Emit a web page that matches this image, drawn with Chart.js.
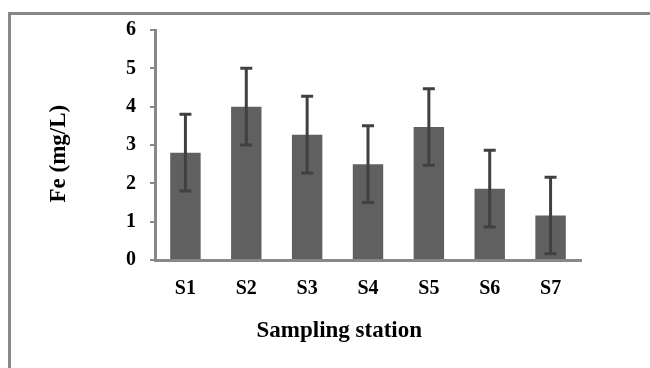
<!DOCTYPE html>
<html>
<head>
<meta charset="utf-8">
<script src="https://cdn.jsdelivr.net/npm/chart.js@4"></script>
<style>
  html, body { margin: 0; padding: 0; background: #fff; }
  #wrap { width: 650px; height: 368px; position: relative; }
</style>
</head>
<body>
<div id="wrap"><canvas id="chartFe" width="650" height="368"></canvas></div>
<script>
const stations = ['S1', 'S2', 'S3', 'S4', 'S5', 'S6', 'S7'];
const feValues = [2.8, 4.0, 3.27, 2.5, 3.47, 1.86, 1.16];
const feErrors = [1.0, 1.0, 1.0, 1.0, 1.0, 1.0, 1.0];
const yTicks = [0, 1, 2, 3, 4, 5, 6];

const axisColor = '#888888';
const tickFont = { family: 'Liberation Serif', size: 20, weight: 'bold' };
const titleFont = { family: 'Liberation Serif', size: 23, weight: 'bold' };

// grey frame around the figure (only top and left edges are in view)
const framePlugin = {
  id: 'frame',
  beforeDraw(chart) {
    const ctx = chart.ctx;
    ctx.save();
    ctx.strokeStyle = axisColor;
    ctx.lineWidth = 3;
    ctx.beginPath();
    ctx.moveTo(9.5, chart.height + 5);
    ctx.lineTo(9.5, 13.5);
    ctx.lineTo(chart.width + 5, 13.5);
    ctx.stroke();
    ctx.restore();
  },
};

// vertical error bars with caps
const errorBarPlugin = {
  id: 'errorBars',
  afterDatasetsDraw(chart) {
    const ctx = chart.ctx;
    const yScale = chart.scales.y;
    const meta = chart.getDatasetMeta(0);
    ctx.save();
    ctx.strokeStyle = '#404040';
    ctx.lineWidth = 3;
    meta.data.forEach((bar, i) => {
      const hi = yScale.getPixelForValue(feValues[i] + feErrors[i]);
      const lo = yScale.getPixelForValue(feValues[i] - feErrors[i]);
      const x = bar.x;
      ctx.beginPath();
      ctx.moveTo(x, hi);
      ctx.lineTo(x, lo);
      ctx.moveTo(x - 6, hi);
      ctx.lineTo(x + 6, hi);
      ctx.moveTo(x - 6, lo);
      ctx.lineTo(x + 6, lo);
      ctx.stroke();
    });
    ctx.restore();
  },
};

const chartFeConfig = {
  type: 'bar',
  plugins: [framePlugin, errorBarPlugin],
  data: {
    labels: stations,
    datasets: [
      {
        label: 'Fe',
        data: feValues,
        backgroundColor: '#606060',
        borderWidth: 0,
        barPercentage: 0.5,
        categoryPercentage: 1.0,
      },
    ],
  },
  options: {
    responsive: false,
    animation: false,
    layout: {
      padding: { left: 36, right: 69, top: 30, bottom: 19 },
    },
    plugins: {
      legend: { display: false },
      tooltip: { enabled: false },
    },
    scales: {
      x: {
        grid: { display: false, drawTicks: false },
        border: { color: axisColor, width: 3 },
        ticks: { color: '#000', font: tickFont, padding: 17 },
        title: {
          display: true,
          // trailing spaces nudge the title left, as in the original figure
          text: 'Sampling station          ',
          color: '#000',
          font: titleFont,
          padding: { top: 0, bottom: 4 },
        },
        afterFit(scale) {
          scale.height = 368 - 19 - 260;
        },
      },
      y: {
        min: 0,
        max: 6,
        afterBuildTicks(scale) {
          scale.ticks = yTicks.map((v) => ({ value: v }));
        },
        grid: {
          drawOnChartArea: false,
          drawTicks: true,
          tickLength: 5,
          color: axisColor,
          lineWidth: 2,
        },
        border: { color: axisColor, width: 3 },
        ticks: { color: '#000', font: tickFont, padding: 14 },
        title: {
          display: true,
          text: 'Fe (mg/L)   ',
          color: '#000',
          font: titleFont,
          padding: { top: 9, bottom: 0 },
        },
        afterFit(scale) {
          scale.width = 155 - 36;
        },
      },
    },
  },
};

const chartFe = new Chart(document.getElementById('chartFe'), chartFeConfig);
</script>
</body>
</html>
